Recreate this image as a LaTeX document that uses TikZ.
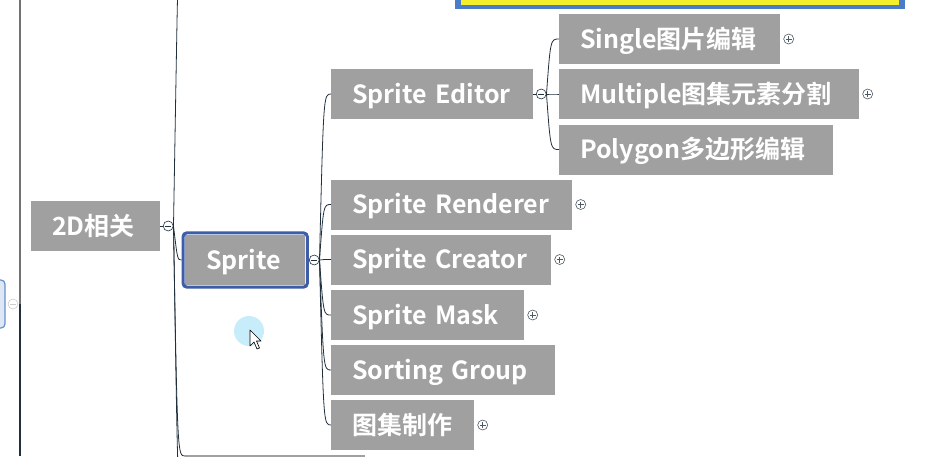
\documentclass[tikz,border=0pt]{standalone}
\usepackage{fontspec}
\newfontfamily\topicfont{Noto Sans CJK SC}[BoldFont={* Bold}]
\usetikzlibrary{positioning, fit}
\definecolor{topicgray}{HTML}{A0A0A0}
\definecolor{branchline}{HTML}{22303C}
\definecolor{selblue}{HTML}{3E5DA8}
\definecolor{frameblue}{HTML}{4A7CC9}
\definecolor{noteyellow}{HTML}{F3EF2A}
\definecolor{leftfill}{HTML}{DDE7F6}
\definecolor{leftdraw}{HTML}{6A90C8}
\tikzset{
  topic/.style={
    fill=topicgray, text=white, anchor=west,
    minimum height=50pt, inner xsep=21pt, inner ysep=0pt,
    text width=#1, align=left, text height=18pt, text depth=0pt,
    font={\topicfont\bfseries\fontsize{25pt}{28pt}\selectfont}},
  sel/.style={
    draw=selblue, line width=3pt, rounded corners=4pt},
  branch/.style={
    draw=branchline, line width=0.8pt},
  collapse/.style={
    circle, draw=branchline, fill=white, line width=0.6pt,
    minimum size=10pt, inner sep=0pt,
    path picture={
      \draw[line width=0.6pt] ([xshift=-3pt]path picture bounding box.center)
        -- ([xshift=3pt]path picture bounding box.center);}},
  expand/.style={
    circle, draw=branchline!80, line width=0.6pt,
    minimum size=10pt, inner sep=0pt,
    path picture={
      \draw[line width=0.6pt] ([xshift=-3pt]path picture bounding box.center)
        -- ([xshift=3pt]path picture bounding box.center);
      \draw[line width=0.6pt] ([yshift=-3pt]path picture bounding box.center)
        -- ([yshift=3pt]path picture bounding box.center);}}
  }

\begin{document}
\begin{tikzpicture}[x=1pt, y=-1pt]
  \useasboundingbox (0,0) rectangle (930,456);
  % parts of the map cut by the window
  \fill[frameblue] (455,-5) rectangle (905,9);
  \fill[noteyellow] (461,-5) rectangle (899,5);
  \draw[leftdraw, fill=leftfill, line width=1.2pt, rounded corners=4pt] (-10,280) rectangle (5,328);
  \draw[gray!90!black, line width=1.5pt] (20,0) -- (20,304);
  \draw[branchline, line width=1.5pt] (20,304) -- (20,456);
  \fill[topicgray] (185,455) rectangle (365,470);
  \node[collapse, draw=gray!40] (cleft) at (13,304) {};

  % topics
  \node[topic=87pt] (n2d) at (31,226) {2D相关};
  \node[topic=78pt] (sprite) at (185,260) {Sprite};
  \node[sel, fit=(sprite), inner sep=2pt] (spritesel) {};
  \node[topic=160pt] (editor) at (331,94) {Sprite Editor};
  \node[topic=179pt] (single) at (559,39) {Single图片编辑};
  \node[topic=258pt] (multiple) at (559,94) {Multiple图集元素分割};
  \node[topic=232pt] (polygon) at (559,149.5) {Polygon多边形编辑};
  \node[topic=199pt] (renderer) at (331,204.5) {Sprite Renderer};
  \node[topic=178pt] (creator) at (331,259.5) {Sprite Creator};
  \node[topic=151pt] (mask) at (331,315) {Sprite Mask};
  \node[topic=182pt] (sorting) at (331,370) {Sorting Group};
  \node[topic=101pt] (atlas) at (331,425) {图集制作};

  % collapse and expand buttons
  \node[collapse, right=2.5pt of n2d] (c2d) {};
  \node[collapse, right=0pt of spritesel] (csprite) {};
  \node[collapse, right=2.5pt of editor] (ceditor) {};
  \foreach \t in {single,multiple,renderer,creator,mask,atlas}
    \node[expand, right=3pt of \t] (p\t) {};

  % branches
  \coordinate (up1) at (178,-10);
  \coordinate (dn1) at (179,470);
  \coordinate (dn2) at (185,456);
  \coordinate (k2d) at ([xshift=4pt]c2d.east);
  \coordinate (ksprite) at ([xshift=4pt]csprite.east);
  \coordinate (keditor) at ([xshift=4pt]ceditor.east);
  \draw[branch] (n2d) -- (c2d);
  \draw[branch] (editor) -- (ceditor);
  \draw[branch] (c2d.east) .. controls (k2d |- sprite.west) .. (spritesel.west);
  \foreach \t in {up1,dn1,dn2}
    \draw[branch] (c2d.east) .. controls (k2d |- \t) .. (\t);
  \foreach \t in {editor,renderer,creator,mask,sorting,atlas}
    \draw[branch] (csprite.east) .. controls (ksprite |- \t.west) .. (\t.west);
  \foreach \t in {single,multiple,polygon}
    \draw[branch] (ceditor.east) .. controls (keditor |- \t.west) .. (\t.west);

  % mouse pointer
  \fill[cyan!22] (249,331) circle (15pt);
  \draw[fill=white, line width=0.6pt, line join=round] (250,330) -- (250,346) -- (254,342)
    -- (257,349) -- (259.5,348) -- (256.5,341) -- (261,341) -- cycle;
\end{tikzpicture}
\end{document}
